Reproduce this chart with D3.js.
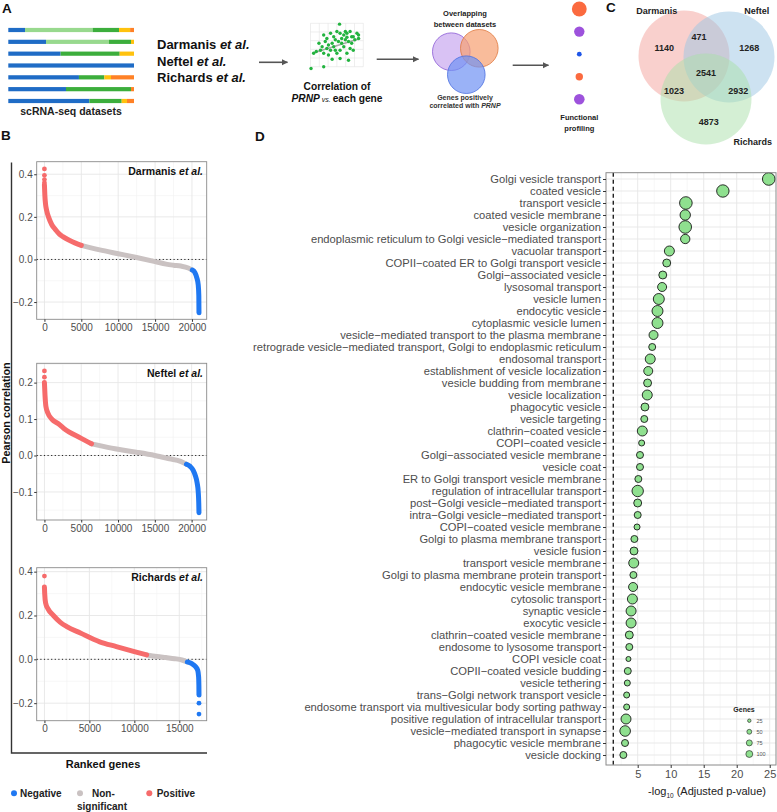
<!DOCTYPE html>
<html>
<head>
<meta charset="utf-8">
<script src="https://cdn.jsdelivr.net/npm/d3@7"></script>
<style>
  body { margin: 0; background: #fff; }
  svg { font-family: "Liberation Sans", Arial, Helvetica, sans-serif; }
</style>
</head>
<body>
<svg id="fig" width="777" height="812"></svg>
<script>
// ---------------- data ----------------
// A: cell-type composition of the example datasets (fractions per bar)
const barColors = ["#1f6cc6", "#98d98e", "#3cae3c", "#ffc20e", "#ff8126"];
const barRows = [
  [0.133, 0.538, 0.210, 0.088, 0.031],
  [0.300, 0.501, 0.175, 0.024, 0],
  [0.416, 0, 0.470, 0.114, 0],
  [1, 0, 0, 0, 0],
  [0.562, 0, 0.202, 0.053, 0.183],
  [0.459, 0, 0.517, 0, 0.024],
  [0.645, 0, 0.257, 0.042, 0.056]
];
const studies = ["Darmanis", "Neftel", "Richards"];

// icon scatter (0-100 units)
const iconPoints = [[55,98],[25,73],[31,65],[38,77],[44,69],[50,81],[56,77],[63,73],[69,77],[75,81],
  [81,69],[88,77],[91,65],[16,54],[22,46],[28,58],[34,50],[41,54],[47,62],[53,58],[59,54],[66,62],
  [72,58],[78,54],[84,62],[11,35],[19,38],[25,31],[31,42],[38,38],[44,46],[50,31],[56,38],[63,46],
  [69,31],[75,42],[1,-4],[25,0],[41,17],[56,19],[72,15],[81,38],[34,27],[47,38],[59,65],[66,81],
  [78,69],[91,73],[69,68],[6,31]];
const iconFit = [[3,31],[94,65]];
const profileSizes = [7.4, 5.2, 2.4, 3.7, 5.3];

// C: overlap of positively correlated genes
const vennSets = ["Darmanis", "Neftel", "Richards"];
const vennRegions = ["D", "N", "R", "DN", "DR", "NR", "DNR"];
const vennCounts = [1140, 1268, 4873, 471, 1023, 2932, 2541];

// B: ranked Pearson correlation with PRNP  [rank, r]
const darmanisPos = [[0,0.35],[60,0.30],[150,0.26],[300,0.23],[600,0.195],[1000,0.163],[1500,0.14],[2000,0.12],[2500,0.107],[3500,0.088],[5000,0.066]];
const darmanisNs  = [[5000,0.066],[7500,0.045],[10000,0.027],[12500,0.009],[15000,-0.01],[16500,-0.022],[17500,-0.027],[18500,-0.031],[19500,-0.04],[20050,-0.05]];
const darmanisNeg = [[20050,-0.05],[20400,-0.062],[20650,-0.085],[20850,-0.12],[20930,-0.17],[20950,-0.25]];
const darmanisOut = [[0,0.425],[0,0.395],[0,0.375],[0,0.36]];

const neftelPos = [[0,0.2],[80,0.165],[200,0.135],[500,0.115],[1000,0.1],[1900,0.087],[2600,0.075],[5000,0.047],[6400,0.032]];
const neftelNs  = [[6400,0.032],[8000,0.025],[10000,0.017],[12500,0.009],[15000,0.0],[17000,-0.009],[18500,-0.016],[19300,-0.024]];
const neftelNeg = [[19300,-0.024],[19800,-0.03],[20200,-0.04],[20500,-0.055],[20750,-0.075],[20900,-0.1],[20970,-0.13],[21000,-0.157]];
const neftelOut = [[0,0.232],[0,0.215]];

const richardsPos = [[0,0.33],[30,0.3],[133,0.257],[400,0.23],[1000,0.2],[1740,0.17],[2490,0.149],[4000,0.12],[6150,0.08],[8000,0.058],[10000,0.035],[11370,0.02]];
const richardsNs  = [[11370,0.02],[12500,0.013],[13500,0.008],[14500,0.003],[15300,-0.003],[15900,-0.012]];
const richardsNeg = [[15900,-0.012],[16400,-0.02],[16800,-0.033],[17050,-0.05],[17150,-0.08],[17180,-0.12],[17190,-0.163]];
const richardsOut = [[0,0.38],[17190,-0.2],[17190,-0.25]];

const corrTicks = { Darmanis: [-0.2, 0, 0.2, 0.4], Neftel: [-0.1, 0, 0.1, 0.2], Richards: [-0.2, 0, 0.2, 0.4] };

// D: functional profiling of shared genes
const goTerms = [
  "Golgi vesicle transport", "coated vesicle", "transport vesicle", "coated vesicle membrane",
  "vesicle organization", "endoplasmic reticulum to Golgi vesicle\u2212mediated transport", "vacuolar transport",
  "COPII\u2212coated ER to Golgi transport vesicle", "Golgi\u2212associated vesicle", "lysosomal transport",
  "vesicle lumen", "endocytic vesicle", "cytoplasmic vesicle lumen",
  "vesicle\u2212mediated transport to the plasma membrane",
  "retrograde vesicle\u2212mediated transport, Golgi to endoplasmic reticulum", "endosomal transport",
  "establishment of vesicle localization", "vesicle budding from membrane", "vesicle localization",
  "phagocytic vesicle", "vesicle targeting", "clathrin\u2212coated vesicle", "COPI\u2212coated vesicle",
  "Golgi\u2212associated vesicle membrane", "vesicle coat", "ER to Golgi transport vesicle membrane",
  "regulation of intracellular transport", "post\u2212Golgi vesicle\u2212mediated transport",
  "intra\u2212Golgi vesicle\u2212mediated transport", "COPI\u2212coated vesicle membrane",
  "Golgi to plasma membrane transport", "vesicle fusion", "transport vesicle membrane",
  "Golgi to plasma membrane protein transport", "endocytic vesicle membrane", "cytosolic transport",
  "synaptic vesicle", "exocytic vesicle", "clathrin\u2212coated vesicle membrane",
  "endosome to lysosome transport", "COPI vesicle coat", "COPII\u2212coated vesicle budding",
  "vesicle tethering", "trans\u2212Golgi network transport vesicle",
  "endosome transport via multivesicular body sorting pathway", "positive regulation of intracellular transport",
  "vesicle\u2212mediated transport in synapse", "phagocytic vesicle membrane", "vesicle docking"
];
const goLogP = [24.85, 17.9, 12.3, 12.2, 12.2, 12.2, 9.8, 9.4, 8.8, 8.7, 8.2, 8.0, 8.0, 7.4, 7.2, 6.9,
  6.6, 6.5, 6.45, 6.1, 6.0, 5.7, 5.6, 5.35, 5.35, 5.1, 5.0, 5.0, 5.0, 4.9, 4.5, 4.44, 4.4, 4.35, 4.3,
  4.2, 4.0, 4.0, 3.73, 3.73, 3.6, 3.5, 3.43, 3.33, 3.33, 3.23, 3.1, 3.08, 2.83];
const goGenes = [100, 97, 100, 68, 100, 55, 63, 40, 40, 51, 76, 76, 76, 51, 31, 63, 51, 40, 63, 40, 31,
  63, 23, 31, 31, 31, 82, 40, 31, 23, 31, 40, 63, 31, 51, 63, 63, 63, 40, 31, 16, 31, 23, 23, 23, 63,
  71, 31, 31];
const geneBreaks = [25, 50, 75, 100];
const xTicksD = [5, 10, 15, 20, 25];
const signifCut = -Math.log10(0.05);

// ---------------- drawing ----------------
const svg = d3.select("#fig");
const grey = "#4d4d4d";

svg.append("defs").append("marker")
  .attr("id", "arrow").attr("viewBox", "0 0 10 10").attr("refX", 9).attr("refY", 5)
  .attr("markerWidth", 4).attr("markerHeight", 4).attr("orient", "auto")
  .append("path").attr("d", "M0,0L10,5L0,10z").attr("fill", "#555");

function letter(t, x, y) {
  svg.append("text").attr("x", x).attr("y", y).attr("font-size", 13.5)
    .attr("font-weight", "bold").attr("fill", "#111").text(t);
}
letter("A", 2, 12.8); letter("B", 1, 140); letter("C", 606, 11.8); letter("D", 255, 140.7);

function arrow(x1, x2, y) {
  svg.append("line").attr("x1", x1).attr("x2", x2).attr("y1", y).attr("y2", y)
    .attr("stroke", "#555").attr("stroke-width", 1.6).attr("marker-end", "url(#arrow)");
}

// ----- panel A -----
const barX = d3.scaleLinear([0, 1], [8.3, 134]);
const barY = d3.scalePoint(d3.range(barRows.length), [30, 101]);
barRows.forEach((row, i) => {
  let acc = 0;
  row.forEach((f, j) => {
    if (f > 0) {
      svg.append("rect").attr("x", barX(acc)).attr("y", barY(i) - 2.1)
        .attr("width", barX(acc + f) - barX(acc)).attr("height", 4.2).attr("fill", barColors[j]);
    }
    acc += f;
  });
});
svg.append("text").attr("x", 71).attr("y", 114.5).attr("text-anchor", "middle")
  .attr("font-size", 10.5).attr("font-weight", "bold").attr("fill", "#222").text("scRNA-seq datasets");

studies.forEach((s, i) => {
  const t = svg.append("text").attr("x", 157).attr("y", 49.3 + i * 16.35)
    .attr("font-size", 13).attr("font-weight", "bold").attr("fill", "#111");
  t.append("tspan").text(s + " ");
  t.append("tspan").attr("font-style", "italic").text("et al.");
});
arrow(259, 287.5, 62.3);

// scatter icon
const ix = d3.scaleLinear([0, 100], [310.5, 363.3]);
const iy = d3.scaleLinear([0, 100], [66.7, 23.3]);
const icon = svg.append("g");
d3.range(0, 101, 100 / 6).forEach(v => icon.append("line").attr("x1", ix(v)).attr("x2", ix(v))
  .attr("y1", iy(0)).attr("y2", iy(100)).attr("stroke", "#e2e2e2").attr("stroke-width", 0.6));
d3.range(0, 101, 20).forEach(v => icon.append("line").attr("y1", iy(v)).attr("y2", iy(v))
  .attr("x1", ix(0)).attr("x2", ix(100)).attr("stroke", "#e2e2e2").attr("stroke-width", 0.6));
icon.append("path").attr("d", d3.line().x(d => ix(d[0])).y(d => iy(d[1]))(iconFit))
  .attr("stroke", "#a9a9a9").attr("stroke-width", 1.6);
icon.selectAll("circle").data(iconPoints).join("circle")
  .attr("cx", d => ix(d[0])).attr("cy", d => iy(d[1])).attr("r", 1.7).attr("fill", "#22b33f");
svg.append("text").attr("x", 337).attr("y", 90).attr("text-anchor", "middle")
  .attr("font-size", 10.2).attr("font-weight", "bold").attr("fill", "#111").text("Correlation of");
const t2 = svg.append("text").attr("x", 337).attr("y", 101.7).attr("text-anchor", "middle")
  .attr("font-size", 10.2).attr("font-weight", "bold").attr("fill", "#111");
t2.append("tspan").attr("font-style", "italic").text("PRNP");
t2.append("tspan").attr("font-style", "italic").attr("font-weight", "normal").attr("font-size", 7).text(" vs. ");
t2.append("tspan").text("each gene");
arrow(376.7, 418.5, 59.3);

// venn icon
const vIcon = [
  { cx: 451.3, cy: 51.7, fill: "#c9a8f0", stroke: "#8a5bd6" },
  { cx: 479.3, cy: 48.3, fill: "#f6a070", stroke: "#e07a40" },
  { cx: 466.3, cy: 74.7, fill: "#6f92f3", stroke: "#4a6fe0" }
];
vIcon.forEach(c => svg.append("circle").attr("cx", c.cx).attr("cy", c.cy).attr("r", 18.8)
  .attr("fill", c.fill).attr("fill-opacity", 0.7).attr("stroke", c.stroke).attr("stroke-width", 0.8));
[["Overlapping", 16], ["between datasets", 27]].forEach(([s, y]) =>
  svg.append("text").attr("x", 465).attr("y", y).attr("text-anchor", "middle").attr("font-size", 7.5)
    .attr("font-weight", "bold").attr("fill", "#222").text(s));
svg.append("text").attr("x", 465).attr("y", 99.5).attr("text-anchor", "middle").attr("font-size", 7)
  .attr("font-weight", "bold").attr("fill", "#333").text("Genes positively");
const t3 = svg.append("text").attr("x", 465).attr("y", 107.5).attr("text-anchor", "middle")
  .attr("font-size", 7).attr("font-weight", "bold").attr("fill", "#333");
t3.append("tspan").text("correlated with ");
t3.append("tspan").attr("font-style", "italic").text("PRNP");
arrow(512.7, 548.5, 65.3);

// functional profiling dots
const profColors = ["#fb6a3f", "#9d52dc", "#1f56e8", "#fb6a3f", "#9d52dc"];
const profY = d3.scalePoint(d3.range(profileSizes.length), [9, 99.3]);
profileSizes.forEach((r, i) => svg.append("circle").attr("cx", 579.3).attr("cy", profY(i))
  .attr("r", r).attr("fill", profColors[i]));
[["Functional", 119.5], ["profiling", 130.5]].forEach(([s, y]) =>
  svg.append("text").attr("x", 579.3).attr("y", y).attr("text-anchor", "middle").attr("font-size", 7.5)
    .attr("font-weight", "bold").attr("fill", "#222").text(s));

// ----- panel C -----
const vennGeom = [
  { cx: 684, cy: 56, fill: "#f4a29c", lx: 656.7, ly: 10.7 },
  { cx: 729, cy: 57, fill: "#9cc6e4", lx: 756.7, ly: 10.7 },
  { cx: 706, cy: 99, fill: "#a9dfa9", lx: 752.7, ly: 141.7 }
];
vennSets.forEach((s, i) => {
  const g = vennGeom[i];
  svg.append("circle").attr("cx", g.cx).attr("cy", g.cy).attr("r", 45.5)
    .attr("fill", g.fill).attr("fill-opacity", 0.5);
  svg.append("text").attr("x", g.lx).attr("y", g.ly).attr("dy", "0.35em").attr("text-anchor", "middle")
    .attr("font-size", 9).attr("font-weight", "bold").attr("fill", "#222").text(s);
});
const vennPos = { D: [664.3, 48.3], N: [749.3, 48.3], R: [708.7, 122.3], DN: [699, 36.7],
  DR: [674, 90.7], NR: [738.3, 90.7], DNR: [706, 72.7] };
vennRegions.forEach((k, i) => svg.append("text").attr("x", vennPos[k][0]).attr("y", vennPos[k][1])
  .attr("dy", "0.35em").attr("text-anchor", "middle").attr("font-size", 9).attr("font-weight", "bold")
  .attr("fill", "#222").text(vennCounts[i]));

// ----- panel B -----
const colPos = "#f66b6b", colNs = "#cac2c2", colNeg = "#1f78f2";
const bPanels = [
  { name: "Darmanis", n: 20950, top: 161.7, bottom: 319.3, yDom: [-0.281, 0.459],
    pos: darmanisPos, ns: darmanisNs, neg: darmanisNeg, out: darmanisOut },
  { name: "Neftel", n: 21000, top: 363.3, bottom: 520, yDom: [-0.177, 0.253],
    pos: neftelPos, ns: neftelNs, neg: neftelNeg, out: neftelOut },
  { name: "Richards", n: 17190, top: 567.7, bottom: 720.7, yDom: [-0.28, 0.418],
    pos: richardsPos, ns: richardsNs, neg: richardsNeg, out: richardsOut }
];
const bLeft = 36.7, bRight = 206.7;

bPanels.forEach(p => {
  const x = d3.scaleLinear([-0.05 * p.n, 1.05 * p.n], [bLeft, bRight]);
  const y = d3.scaleLinear(p.yDom, [p.bottom, p.top]);
  const g = svg.append("g");
  const xt = d3.range(0, p.n + 1, 5000);
  const xm = d3.range(2500, p.n * 1.05, 5000);
  const yt = corrTicks[p.name];
  const step = yt[1] - yt[0];
  const ym = d3.range(yt[0] - step / 2, p.yDom[1], step).filter(v => v > p.yDom[0]);

  xm.forEach(v => g.append("line").attr("x1", x(v)).attr("x2", x(v)).attr("y1", p.top).attr("y2", p.bottom)
    .attr("stroke", "#f2f2f2").attr("stroke-width", 0.6));
  ym.forEach(v => g.append("line").attr("y1", y(v)).attr("y2", y(v)).attr("x1", bLeft).attr("x2", bRight)
    .attr("stroke", "#f2f2f2").attr("stroke-width", 0.6));
  xt.forEach(v => g.append("line").attr("x1", x(v)).attr("x2", x(v)).attr("y1", p.top).attr("y2", p.bottom)
    .attr("stroke", "#e6e6e6").attr("stroke-width", 0.9));
  yt.forEach(v => g.append("line").attr("y1", y(v)).attr("y2", y(v)).attr("x1", bLeft).attr("x2", bRight)
    .attr("stroke", "#e6e6e6").attr("stroke-width", 0.9));
  g.append("line").attr("x1", bLeft).attr("x2", bRight).attr("y1", y(0)).attr("y2", y(0))
    .attr("stroke", "#222").attr("stroke-width", 1).attr("stroke-dasharray", "1.2,2.4");

  const line = d3.line().x(d => x(d[0])).y(d => y(d[1])).curve(d3.curveMonotoneX);
  [[p.ns, colNs], [p.pos, colPos], [p.neg, colNeg]].forEach(([d, c]) =>
    g.append("path").attr("d", line(d)).attr("fill", "none").attr("stroke", c)
      .attr("stroke-width", 5).attr("stroke-linecap", "round").attr("stroke-linejoin", "round"));
  g.selectAll(".out").data(p.out).join("circle")
    .attr("cx", d => x(d[0])).attr("cy", d => y(d[1])).attr("r", 2.4)
    .attr("fill", d => d[1] > 0 ? colPos : colNeg);

  g.append("rect").attr("x", bLeft).attr("y", p.top).attr("width", bRight - bLeft)
    .attr("height", p.bottom - p.top).attr("fill", "none").attr("stroke", "#8a8a8a").attr("stroke-width", 0.9);

  g.append("g").attr("transform", `translate(0,${p.bottom})`)
    .call(d3.axisBottom(x).tickValues(xt).tickFormat(d3.format("d")).tickSize(2.5).tickPadding(2))
    .call(a => { a.select(".domain").remove(); a.selectAll("line").attr("stroke", "#333");
      a.selectAll("text").attr("font-size", 10).attr("fill", grey).attr("font-family", null); });
  g.append("g").attr("transform", `translate(${bLeft},0)`)
    .call(d3.axisLeft(y).tickValues(yt).tickFormat(d3.format(".1f")).tickSize(2.5).tickPadding(1.5))
    .call(a => { a.select(".domain").remove(); a.selectAll("line").attr("stroke", "#333");
      a.selectAll("text").attr("font-size", 10).attr("fill", grey).attr("font-family", null); });

  const lab = g.append("text").attr("x", 203).attr("y", p.top + 13.5).attr("text-anchor", "end")
    .attr("font-size", 10.5).attr("font-weight", "bold").attr("fill", "#111");
  lab.append("tspan").text(p.name + " ");
  lab.append("tspan").attr("font-style", "italic").text("et al.");
});

svg.append("path").attr("d", "M11.5,162.5V753H207").attr("fill", "none")
  .attr("stroke", "#333").attr("stroke-width", 1.4);
svg.append("text").attr("transform", "translate(10.3,413) rotate(-90)").attr("text-anchor", "middle")
  .attr("font-size", 10.8).attr("font-weight", "bold").attr("fill", "#111").text("Pearson correlation");
svg.append("text").attr("x", 103).attr("y", 768).attr("text-anchor", "middle")
  .attr("font-size", 11).attr("font-weight", "bold").attr("fill", "#111").text("Ranked genes");

const bLegend = [
  { c: colNeg, x: 14, lines: [["Negative", 20, 797]] },
  { c: colNs, x: 80, lines: [["Non-", 92, 797], ["significant", 77, 810]] },
  { c: colPos, x: 149.3, lines: [["Positive", 156.7, 797]] }
];
bLegend.forEach(l => {
  svg.append("circle").attr("cx", l.x).attr("cy", 793.3).attr("r", 3).attr("fill", l.c);
  l.lines.forEach(([s, tx, ty]) => svg.append("text").attr("x", tx).attr("y", ty).attr("font-size", 10)
    .attr("font-weight", "bold").attr("fill", "#222").text(s));
});

// ----- panel D -----
const dLeft = 606, dRight = 776, dTop = 172.7, dBottom = 765;
const xD = d3.scaleLinear([0.2, 25.95], [dLeft, dRight]);
const yD = d3.scalePoint(goTerms, [179, 755]);
const rD = d3.scaleSqrt([0, 110], [0, 6.6]);
const gD = svg.append("g");

d3.range(2.5, 25, 5).forEach(v => gD.append("line").attr("x1", xD(v)).attr("x2", xD(v))
  .attr("y1", dTop).attr("y2", dBottom).attr("stroke", "#f2f2f2").attr("stroke-width", 0.6));
xTicksD.forEach(v => gD.append("line").attr("x1", xD(v)).attr("x2", xD(v))
  .attr("y1", dTop).attr("y2", dBottom).attr("stroke", "#e6e6e6").attr("stroke-width", 0.9));
goTerms.forEach(t => gD.append("line").attr("x1", dLeft).attr("x2", dRight)
  .attr("y1", yD(t)).attr("y2", yD(t)).attr("stroke", "#e6e6e6").attr("stroke-width", 0.9));

gD.append("line").attr("x1", xD(signifCut)).attr("x2", xD(signifCut)).attr("y1", dTop).attr("y2", dBottom)
  .attr("stroke", "#111").attr("stroke-width", 1.3).attr("stroke-dasharray", "4,3");

gD.selectAll(".bub").data(goTerms).join("circle")
  .attr("cx", (d, i) => xD(goLogP[i])).attr("cy", d => yD(d)).attr("r", (d, i) => rD(goGenes[i]))
  .attr("fill", "#8fe08f").attr("stroke", "#1a1a1a").attr("stroke-width", 0.9);

gD.append("rect").attr("x", dLeft).attr("y", dTop).attr("width", dRight - dLeft)
  .attr("height", dBottom - dTop).attr("fill", "none").attr("stroke", "#8a8a8a").attr("stroke-width", 1);

gD.append("g").attr("transform", `translate(${dLeft},0)`)
  .call(d3.axisLeft(yD).tickSize(3).tickPadding(2))
  .call(a => { a.select(".domain").remove(); a.selectAll("line").attr("stroke", "#333");
    a.selectAll("text").attr("font-size", 11.2).attr("fill", grey).attr("font-family", null); });
gD.append("g").attr("transform", `translate(0,${dBottom})`)
  .call(d3.axisBottom(xD).tickValues(xTicksD).tickSize(3).tickPadding(2))
  .call(a => { a.select(".domain").remove(); a.selectAll("line").attr("stroke", "#333");
    a.selectAll("text").attr("font-size", 11).attr("fill", grey).attr("font-family", null); });

const xl = svg.append("text").attr("x", 707).attr("y", 795).attr("text-anchor", "middle")
  .attr("font-size", 11).attr("fill", "#222");
xl.append("tspan").text("-log");
xl.append("tspan").attr("font-size", 6.5).attr("dy", 2.5).text("10");
xl.append("tspan").attr("dy", -2.5).text(" (Adjusted p-value)");

// size legend (keys drawn at reduced scale as in the figure)
const legY = d3.scalePoint(geneBreaks, [720.7, 754]);
svg.append("text").attr("x", 744).attr("y", 711.5).attr("text-anchor", "middle").attr("font-size", 7)
  .attr("font-weight", "bold").attr("fill", "#222").text("Genes");
geneBreaks.forEach(v => {
  svg.append("circle").attr("cx", 749.3).attr("cy", legY(v)).attr("r", rD(v) * 0.55)
    .attr("fill", "#8fe08f").attr("stroke", "#1a1a1a").attr("stroke-width", 0.6);
  svg.append("text").attr("x", 756.5).attr("y", legY(v)).attr("dy", "0.35em").attr("font-size", 5.5)
    .attr("fill", "#555").text(v);
});
</script>
</body>
</html>
